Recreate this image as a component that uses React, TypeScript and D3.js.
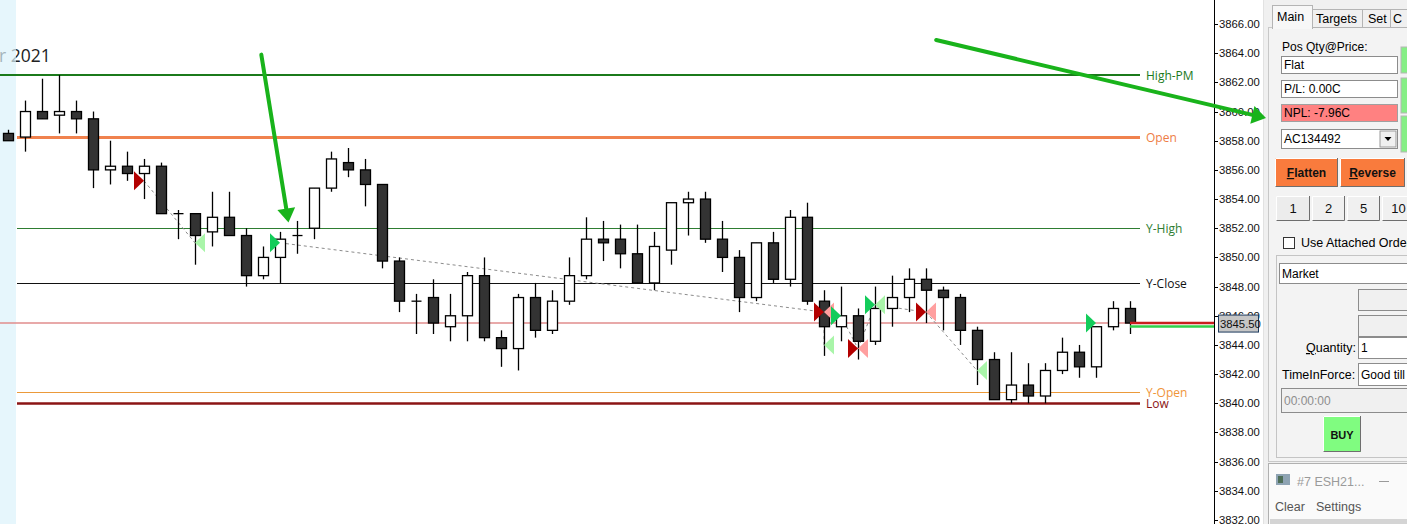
import * as d3 from "d3";

// OHLC bars, one per minute slot
const opens = [
  3858.5, 3858.25, 3860.0, 3859.75, 3860.0, 3859.5, 3856.0, 3856.25, 3855.75, 3856.25,
  3853.0, 3853.0, 3851.75, 3852.75, 3851.5, 3848.75, 3850.0, 3851.5, 3852.0, 3854.75,
  3856.5, 3856.0, 3855.0, 3849.75, 3847.0, 3847.25, 3845.25, 3846.0, 3848.75, 3844.5,
  3843.75, 3847.25, 3845.0, 3847.0, 3848.75, 3851.25, 3851.25, 3850.25, 3848.25, 3850.5,
  3853.75, 3854.0, 3851.25, 3850.0, 3847.25, 3851.0, 3848.5, 3852.75, 3847.0, 3845.25,
  3846.0, 3844.25, 3846.5, 3847.25, 3848.5, 3847.75, 3847.25, 3845.0, 3843.0, 3840.25,
  3841.25, 3840.5, 3842.25, 3843.5, 3842.5, 3845.25, 3846.5,
];
const highs = [
  3858.75, 3860.75, 3862.25, 3862.5, 3860.75, 3860.0, 3858.0, 3857.25, 3856.75, 3856.5,
  3853.25, 3853.0, 3854.5, 3854.5, 3852.0, 3850.75, 3851.75, 3852.5, 3854.75, 3857.25,
  3857.5, 3856.75, 3855.0, 3850.0, 3847.5, 3848.5, 3847.5, 3849.0, 3850.0, 3845.0,
  3847.5, 3848.25, 3847.75, 3850.0, 3852.75, 3852.5, 3852.25, 3852.25, 3851.75, 3853.75,
  3854.5, 3854.5, 3852.5, 3850.5, 3851.0, 3851.75, 3853.25, 3853.75, 3847.75, 3848.0,
  3846.5, 3848.0, 3848.75, 3849.25, 3849.25, 3848.0, 3847.5, 3845.25, 3843.5, 3843.5,
  3842.75, 3842.75, 3844.5, 3844.0, 3845.25, 3847.0, 3847.0,
];
const lows = [
  3858.0, 3857.25, 3859.5, 3858.5, 3858.5, 3854.75, 3855.0, 3855.25, 3854.0, 3853.0,
  3851.25, 3849.5, 3850.75, 3851.5, 3848.0, 3848.5, 3848.25, 3850.25, 3851.25, 3854.5,
  3855.5, 3853.5, 3849.25, 3846.25, 3844.75, 3844.75, 3844.25, 3844.25, 3844.25, 3842.5,
  3842.25, 3844.5, 3844.75, 3846.75, 3848.5, 3849.75, 3849.25, 3848.25, 3847.75, 3849.5,
  3851.5, 3851.0, 3849.0, 3846.25, 3847.0, 3848.25, 3848.0, 3846.75, 3843.25, 3844.25,
  3843.0, 3844.0, 3845.25, 3846.25, 3845.5, 3845.0, 3844.0, 3841.25, 3840.25, 3840.0,
  3840.0, 3840.0, 3842.0, 3841.75, 3841.75, 3845.0, 3844.75,
];
const closes = [
  3858.0, 3860.0, 3859.5, 3860.0, 3859.5, 3856.0, 3856.25, 3855.75, 3856.25, 3853.0,
  3853.0, 3851.5, 3852.75, 3851.5, 3848.75, 3850.0, 3851.25, 3851.5, 3854.75, 3856.75,
  3856.0, 3855.0, 3849.75, 3847.0, 3847.0, 3845.5, 3846.0, 3848.75, 3844.5, 3843.75,
  3847.25, 3845.0, 3847.0, 3848.75, 3851.25, 3851.0, 3850.25, 3848.25, 3850.75, 3853.75,
  3854.0, 3851.25, 3850.0, 3847.25, 3851.0, 3848.5, 3852.75, 3847.0, 3845.25, 3846.0,
  3844.25, 3846.5, 3847.25, 3848.5, 3847.75, 3847.25, 3845.0, 3843.0, 3840.25, 3841.25,
  3840.5, 3842.25, 3843.5, 3842.5, 3845.25, 3846.5, 3845.5,
];

// key levels
const levelNames = ["High-PM", "Open", "Y-High", "Y-Close", "Y-Open", "Low"];
const levelPrices = [3862.5, 3858.25, 3852.0, 3848.25, 3840.75, 3840.0];
const lastPrice = 3845.5;

// trade markers: bar index, price, kind (R sell, P sell exit, G buy, L buy exit)
const markerBars = [8, 11, 16, 48, 48, 49, 48, 50, 50, 51, 51, 54, 54, 57, 64];
const markerPrices = [
  3855.25, 3851.0, 3851.0, 3846.25, 3846.25, 3846.0, 3844.0, 3843.75, 3843.75,
  3846.75, 3846.75, 3846.25, 3846.25, 3842.25, 3845.5,
];
const markerKinds = ["R", "L", "G", "R", "P", "G", "L", "R", "P", "G", "L", "R", "P", "L", "G"];
// entry -> exit links (indexes into the marker lists)
const tradeFrom = [0, 2, 3, 5, 7, 9, 11];
const tradeTo = [1, 3, 6, 7, 9, 11, 13];

// hand-drawn arrows, anchored in bar/price space
const arrowFromBar = [14.9, 54.6];
const arrowFromPrice = [3863.9, 3864.9];
const arrowToBar = [16.5, 74.0];
const arrowToPrice = [3852.4, 3859.55];

const priceTicks = d3.range(3832, 3867, 2);

const levelStyle: Record<string, { color: string; label: string; width: number; x0: number }> = {
  "High-PM": { color: "#1b7a1b", label: "#1b7a1b", width: 2, x0: 0 },
  Open: { color: "#f0824e", label: "#ee7d45", width: 3, x0: 17 },
  "Y-High": { color: "#2e7d32", label: "#2e7d32", width: 1, x0: 17 },
  "Y-Close": { color: "#111", label: "#111", width: 1, x0: 17 },
  "Y-Open": { color: "#eb9a3a", label: "#f0953a", width: 1, x0: 17 },
  Low: { color: "#8b1414", label: "#8b1414", width: 2.5, x0: 17 },
};

const markerFill: Record<string, string> = {
  R: "#b30000",
  P: "#ff9f9f",
  G: "#13cc5a",
  L: "#a9f5a9",
};

const UI_FONT = "'Liberation Sans', Arial, sans-serif";
const LABEL_FONT = "'Open Sans', sans-serif";

function Box({ x, y, w, h, fill = "#fff", text, color = "#000", inset = true }: any) {
  return (
    <g>
      <rect x={x + 0.5} y={y + 0.5} width={w} height={h} fill={fill} stroke={inset ? "#8c8c8c" : "#a0a0a0"} />
      {text && (
        <text x={x + 3} y={y + h / 2 + 4.5} fontSize={12} fill={color} fontFamily={UI_FONT}>
          {text}
        </text>
      )}
    </g>
  );
}

function Button({ x, y, w, h, fill, label, bold = false, underline = false, size = 12 }: any) {
  return (
    <g>
      <rect x={x} y={y} width={w} height={h} fill={fill} />
      <path d={`M${x + 0.5},${y + h} V${y + 0.5} H${x + w}`} stroke="#fff" fill="none" />
      <path d={`M${x + 0.5},${y + h - 0.5} H${x + w - 0.5} V${y}`} stroke="#6e6e6e" fill="none" />
      <text
        x={x + w / 2}
        y={y + h / 2 + 4.5}
        textAnchor="middle"
        fontSize={size}
        fontWeight={bold ? 700 : 400}
        fontFamily={UI_FONT}
        fill="#111"
      >
        {underline ? (
          <>
            <tspan textDecoration="underline">{label[0]}</tspan>
            {label.slice(1)}
          </>
        ) : (
          label
        )}
      </text>
    </g>
  );
}

export default function App() {
  const W = 1407;
  const H = 524;
  const axisX = 1214;

  const x = d3.scaleLinear().domain([0, opens.length - 1]).range([8, 1130]);
  const y = d3.scaleLinear().domain([3832, 3866]).range([520, 24]);
  const bodyW = 10;
  const tri = { w: 10, h: 9.5 };

  const bars = opens.map((o, i) => ({ o, h: highs[i], l: lows[i], c: closes[i], i }));

  const arrows = arrowFromBar.map((_, i) => {
    const sx = x(arrowFromBar[i]);
    const sy = y(arrowFromPrice[i]);
    const tx = x(arrowToBar[i]);
    const ty = y(arrowToPrice[i]);
    const len = Math.hypot(tx - sx, ty - sy);
    const ux = (tx - sx) / len;
    const uy = (ty - sy) / len;
    const bx = tx - ux * 14;
    const by = ty - uy * 14;
    const nx = -uy * 9;
    const ny = ux * 9;
    return { sx, sy, bx, by, tx, ty, head: `${tx},${ty} ${bx + nx},${by + ny} ${bx - nx},${by - ny}` };
  });

  const yLast = y(lastPrice);

  return (
    <svg width={W} height={H} style={{ position: "absolute", left: 0, top: 0, background: "#fff" }}>
      {/* date caption, partly under the left strip */}
      <text x={-1} y={62} fontSize={17.5} fontFamily={LABEL_FONT} fill="#222">
        r 2021
      </text>
      <rect x={0} y={0} width={16} height={H} fill="#dcf2fb" opacity={0.7} />

      {/* levels */}
      {levelNames.map((n, i) => {
        const s = levelStyle[n];
        const yy = Math.round(y(levelPrices[i])) + (s.width % 2 ? 0.5 : 0);
        return (
          <g key={n}>
            <line x1={s.x0} x2={1140} y1={yy} y2={yy} stroke={s.color} strokeWidth={s.width} />
            <text x={1146} y={yy + 4.5} fontSize={12} fontFamily={LABEL_FONT} fill={s.label}>
              {n}
            </text>
          </g>
        );
      })}

      {/* last price line */}
      <line x1={0} x2={axisX} y1={yLast} y2={yLast} stroke="#e08c8c" strokeWidth={1.5} />

      {/* trade links */}
      {tradeFrom.map((a, k) => {
        const b = tradeTo[k];
        return (
          <line
            key={k}
            x1={x(markerBars[a])}
            y1={y(markerPrices[a])}
            x2={x(markerBars[b])}
            y2={y(markerPrices[b])}
            stroke="#8c8c8c"
            strokeDasharray="3,3"
          />
        );
      })}

      {/* candles */}
      {bars.map((d) => {
        const cx = Math.round(x(d.i)) + 0.5;
        const top = y(Math.max(d.o, d.c));
        const bot = y(Math.min(d.o, d.c));
        const down = d.c < d.o;
        const flat = d.c === d.o;
        return (
          <g key={d.i}>
            <line x1={cx} x2={cx} y1={y(d.h)} y2={y(d.l)} stroke="#000" strokeWidth={1.3} />
            {flat ? (
              <line x1={cx - bodyW / 2} x2={cx + bodyW / 2} y1={top} y2={top} stroke="#000" strokeWidth={1.3} />
            ) : (
              <rect
                x={cx - bodyW / 2}
                y={top}
                width={bodyW}
                height={Math.max(1, bot - top)}
                fill={down ? "#333333" : "#ffffff"}
                stroke="#000"
                strokeWidth={1.3}
              />
            )}
          </g>
        );
      })}

      {/* trade markers */}
      {markerBars.map((b, i) => {
        const ax = x(b);
        const ay = y(markerPrices[i]);
        const k = markerKinds[i];
        const dir = k === "R" || k === "G" ? -1 : 1;
        return (
          <polygon
            key={i}
            points={`${ax + dir * tri.w},${ay - tri.h} ${ax},${ay} ${ax + dir * tri.w},${ay + tri.h}`}
            fill={markerFill[k]}
          />
        );
      })}

      {/* position lines at the right edge */}
      <line x1={x(opens.length - 1)} x2={axisX} y1={yLast} y2={yLast} stroke="#c81e1e" strokeWidth={2.5} />
      <line x1={x(opens.length - 1)} x2={axisX} y1={yLast + 3.5} y2={yLast + 3.5} stroke="#2fd04a" strokeWidth={2.5} />

      {/* price axis */}
      <line x1={axisX + 0.5} x2={axisX + 0.5} y1={0} y2={H} stroke="#000" />
      {priceTicks.map((t) => (
        <g key={t}>
          <line x1={axisX} x2={axisX + 4} y1={Math.round(y(t)) + 0.5} y2={Math.round(y(t)) + 0.5} stroke="#000" />
          <text x={axisX + 5} y={y(t) + 4} fontSize={11.3} fontFamily={UI_FONT} fill="#111">
            {t.toFixed(2)}
          </text>
        </g>
      ))}
      <rect x={axisX + 4.5} y={yLast - 8} width={40} height={17} fill="#c6c6c6" stroke="#1d3a5e" />
      <text x={axisX + 6} y={yLast + 4.5} fontSize={11.3} fontFamily={UI_FONT} fill="#111">
        {lastPrice.toFixed(2)}
      </text>

      {/* order panel */}
      <g>
        <rect x={1263} y={0} width={W - 1263} height={H} fill="#f0f0f0" />
        <line x1={1263.5} x2={1263.5} y1={0} y2={H} stroke="#e2e2e2" />
        <rect x={1268.5} y={27.5} width={150} height={434} fill="#f3f3f3" stroke="#c8c8c8" />
        {/* tabs */}
        <rect x={1312.5} y={9.5} width={50} height={18} fill="#f0f0f0" stroke="#b4b4b4" />
        <rect x={1362.5} y={9.5} width={28} height={18} fill="#f0f0f0" stroke="#b4b4b4" />
        <rect x={1390.5} y={9.5} width={28} height={18} fill="#f0f0f0" stroke="#b4b4b4" />
        <rect x={1272.5} y={5.5} width={40} height={23} fill="#f7f7f7" stroke="#b4b4b4" />
        <line x1={1273} x2={1312} y1={28} y2={28} stroke="#f7f7f7" strokeWidth={2} />
        <text x={1277} y={21} fontSize={12.5} fontFamily={UI_FONT}>Main</text>
        <text x={1316} y={23} fontSize={12.5} fontFamily={UI_FONT}>Targets</text>
        <text x={1368} y={23} fontSize={12.5} fontFamily={UI_FONT}>Set</text>
        <text x={1393} y={23} fontSize={12.5} fontFamily={UI_FONT}>C</text>

        <text x={1282} y={51} fontSize={12} fontFamily={UI_FONT}>Pos Qty@Price:</text>
        <Box x={1281} y={56} w={116} h={17} text="Flat" />
        <Box x={1281} y={80} w={116} h={17} text="P/L: 0.00C" />
        <Box x={1281} y={104} w={116} h={17} fill="#ff8181" text="NPL: -7.96C" inset={false} />
        <Box x={1281} y={129} w={116} h={19} text="AC134492" />
        <rect x={1380} y={131} width={16} height={16} fill="#f0f0f0" stroke="#9a9a9a" />
        <polygon points="1384.5,137 1391.5,137 1388,141" fill="#000" />

        {/* green side buttons */}
        <rect x={1401} y={47} width={10} height={26} fill="#86ef86" stroke="#b5b5b5" />
        <rect x={1401} y={78} width={10} height={35} fill="#86ef86" stroke="#b5b5b5" />
        <rect x={1401} y={116} width={10} height={36} fill="#86ef86" stroke="#b5b5b5" />

        <Button x={1275} y={158} w={63} h={29} fill="#f97b3d" label="Flatten" bold underline />
        <Button x={1340} y={158} w={65} h={29} fill="#f97b3d" label="Reverse" bold underline />

        <Button x={1276} y={196} w={34} h={25} fill="#ececec" label="1" size={13} />
        <Button x={1312} y={196} w={33} h={25} fill="#f0f0f0" label="2" size={13} />
        <Button x={1347} y={196} w={33} h={25} fill="#f0f0f0" label="5" size={13} />
        <Button x={1382} y={196} w={33} h={25} fill="#f0f0f0" label="10" size={13} />

        <rect x={1283.5} y={237.5} width={11} height={11} fill="#fff" stroke="#333" />
        <text x={1301} y={247} fontSize={12.5} fontFamily={UI_FONT}>Use Attached Order</text>

        <rect x={1276.5} y={255.5} width={140} height={202} fill="none" stroke="#c4c4c4" />
        <Box x={1279} y={263} w={140} h={20} text="Market" />
        <Box x={1358} y={289} w={60} h={21} fill="#f0f0f0" />
        <Box x={1358} y={315} w={60} h={21} fill="#f0f0f0" />
        <text x={1356} y={352} fontSize={12.5} fontFamily={UI_FONT} textAnchor="end">
          <tspan textDecoration="underline">Q</tspan>uantity:
        </text>
        <Box x={1358} y={337} w={60} h={21} text="1" />
        <text x={1282} y={379} fontSize={12.5} fontFamily={UI_FONT}>TimeInForce:</text>
        <Box x={1358} y={363} w={60} h={22} text="Good till" />
        <Box x={1281} y={388} w={140} h={24} fill="#f0f0f0" text="00:00:00" color="#8d8d8d" />
        <Button x={1323} y={416} w={38} h={36} fill="#80fc80" label="BUY" bold size={11} />

        {/* floating log window */}
        <rect x={1268.5} y={463.5} width={150} height={70} fill="#fafafa" stroke="#b0b0b0" />
        <rect x={1276} y={474} width={14} height={11} fill="#8ea3b3" />
        <rect x={1278} y={476} width={5} height={7} fill="#4e6e58" />
        <text x={1297} y={486} fontSize={12.5} fontFamily={UI_FONT} fill="#9a9a9a">#7 ESH21...</text>
        <line x1={1379} x2={1389} y1={481.5} y2={481.5} stroke="#9a9a9a" />
        <text x={1275} y={511} fontSize={12.5} fontFamily={UI_FONT} fill="#555">Clear</text>
        <text x={1316} y={511} fontSize={12.5} fontFamily={UI_FONT} fill="#555">Settings</text>
        <rect x={1270} y={519} width={137} height={5} fill="#d4d4d4" />
      </g>

      {/* drawn arrows */}
      {arrows.map((a, i) => (
        <g key={i}>
          <line x1={a.sx} y1={a.sy} x2={a.bx} y2={a.by} stroke="#19b31b" strokeWidth={4} strokeLinecap="round" />
          <polygon points={a.head} fill="#19b31b" />
        </g>
      ))}
    </svg>
  );
}
